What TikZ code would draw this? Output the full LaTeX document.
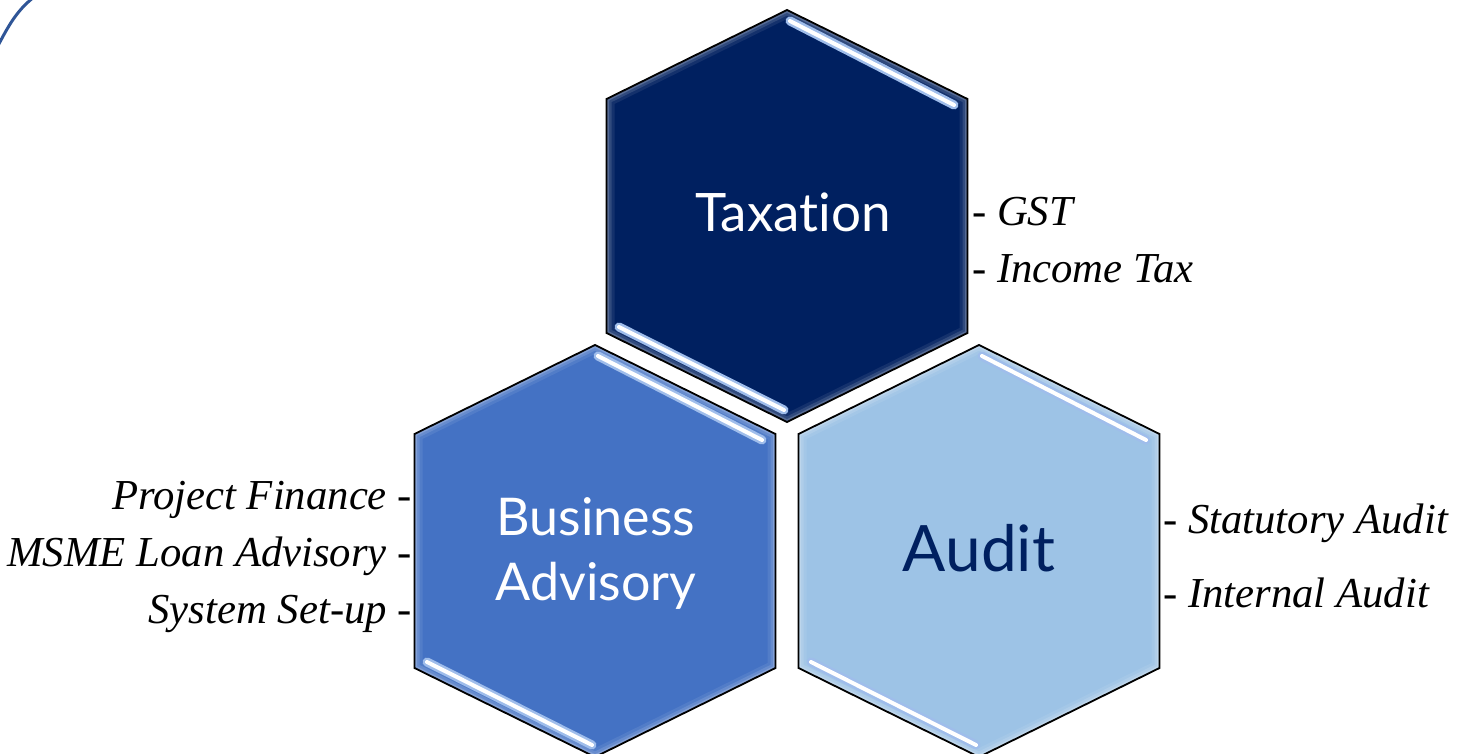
\documentclass[tikz,border=0pt]{standalone}
\usepackage{fontspec}
\setmainfont{Liberation Serif}
\newfontfamily\hexfont{Lato}[Ligatures={NoCommon,NoContextual}]
\definecolor{navy}{HTML}{002060}
\definecolor{midblue}{HTML}{4472C4}
\definecolor{lightblue}{HTML}{9DC3E6}
\definecolor{arcblue}{HTML}{2F5597}
\definecolor{shine}{HTML}{9FBDEB}
\newcommand\hexpath[2]{(#1,#2) ++(0,-206) -- ++(180.5,89) -- ++(0,234) -- ++(-180.5,89) -- ++(-180.5,-89) -- ++(0,-234) -- cycle}
\newcommand\hexdraw[3]{%
  \fill[#3] \hexpath{#1}{#2};
  \begin{scope}
    \clip \hexpath{#1}{#2};
    \draw[line width=16, white, opacity=.08] \hexpath{#1}{#2};
    \draw[line width=10, white, opacity=.12] \hexpath{#1}{#2};
    \draw[line width=5, white, opacity=.18] \hexpath{#1}{#2};
  \end{scope}
  \draw[shinestrip] (#1+3,#2-195) -- (#1+167,#2-111);
  \draw[shinecore] (#1+3,#2-195) -- (#1+167,#2-111);
  \draw[shinestrip] (#1-168,#2+111) -- (#1-3,#2+194);
  \draw[shinecore] (#1-168,#2+111) -- (#1-3,#2+194);
  \draw[hexline] \hexpath{#1}{#2};
}
\tikzset{
  hexline/.style={draw=black, line width=1.8, line join=miter},
  shinestrip/.style={line width=9, shine, line cap=round},
  shinecore/.style={line width=4, white, line cap=round},
  hextext/.style={font=\hexfont, inner sep=0pt},
  sidetext/.style={font=\fontsize{42.7}{50}\selectfont\itshape, inner sep=0pt, text=black},
}
\begin{document}
\begin{tikzpicture}[x=1pt, y=-1pt]
\useasboundingbox (0,0) rectangle (1465,754);
\clip (0,0) rectangle (1465,754);
\fill[white] (0,0) rectangle (1465,754);
% corner arc
\draw[arcblue, line width=3] (-3,47.5) .. controls (8.3,26.3) and (16.1,11.1) .. (34,-3);
% hexagons
\hexdraw{787}{216}{navy}
\hexdraw{595}{551}{midblue}
\hexdraw{979}{551}{lightblue}
% hexagon labels
\node[hextext, text=white, font=\hexfont\fontsize{53}{64}\selectfont, anchor=base] (tax) at (793,232) {Taxation};
\node[hextext, text=white, font=\hexfont\fontsize{52}{65}\selectfont, align=center, anchor=center] (biz) at (596,553) {Business\\Advisory};
\node[hextext, text=navy, font=\hexfont\fontsize{64}{76}\selectfont, anchor=base] (aud) at (979,571) {Audit};
% side lists
\node[sidetext, anchor=base west] (gst) at (972,226) {- GST};
\node[sidetext, anchor=base west] (itx) at (972,283) {- Income Tax};
\node[sidetext, anchor=base east] (pf) at (412,509) {Project Finance -};
\node[sidetext, anchor=base east] (msme) at (412,566) {MSME Loan Advisory -};
\node[sidetext, anchor=base east] (sys) at (412,623) {System Set-up -};
\node[sidetext, anchor=base west] (stat) at (1163,533) {- Statutory Audit};
\node[sidetext, anchor=base west] (int) at (1163,607) {- Internal Audit};
\end{tikzpicture}
\end{document}
